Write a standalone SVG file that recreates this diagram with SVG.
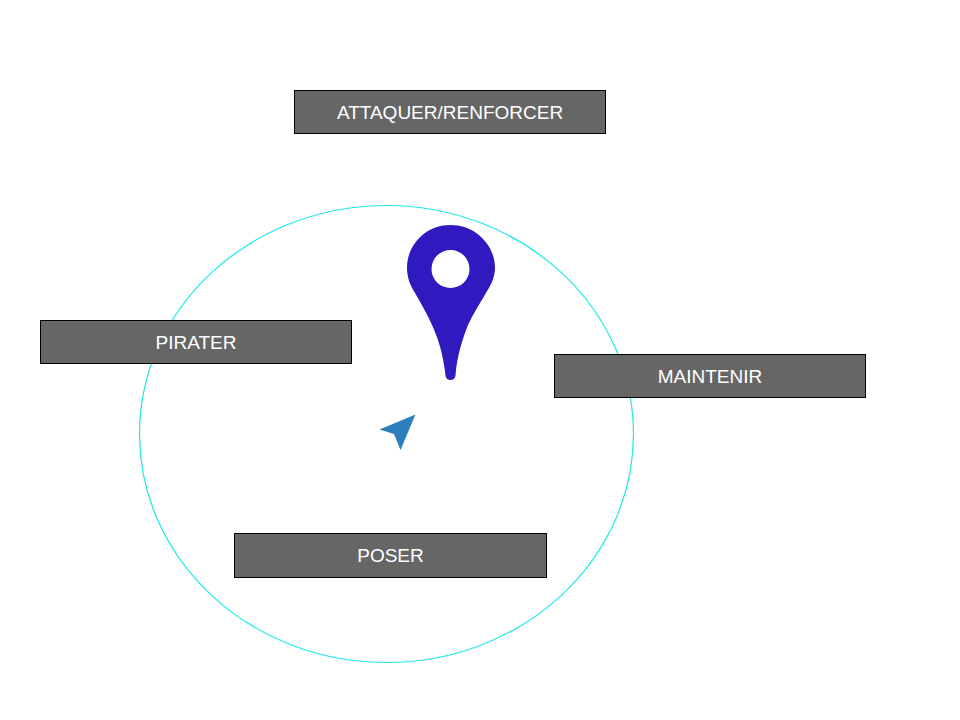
<svg xmlns="http://www.w3.org/2000/svg" width="960" height="720" viewBox="0 0 960 720">
<style>
.box{fill:#666666;stroke:#000000;stroke-width:1}
.lbl{font-family:"Liberation Sans",Arial,sans-serif;font-size:19px;fill:#ffffff;text-anchor:middle}
</style>
<rect width="960" height="720" fill="#ffffff"/>
<ellipse id="circle" cx="386.500" cy="434" rx="247" ry="228.500" fill="none" stroke="#1fe9e9" stroke-width="1.200"/>
<g id="attaquer"><rect class="box" x="294.500" y="90.500" width="311" height="43"/><text class="lbl" x="450" y="118.500">ATTAQUER/RENFORCER</text></g>
<g id="pirater"><rect class="box" x="40.500" y="320.500" width="311" height="43"/><text class="lbl" x="196" y="348.500">PIRATER</text></g>
<g id="maintenir"><rect class="box" x="554.500" y="354.500" width="311" height="43"/><text class="lbl" x="710" y="382.500">MAINTENIR</text></g>
<g id="poser"><rect class="box" x="234.500" y="533.500" width="312" height="44"/><text class="lbl" x="390.500" y="561.500">POSER</text></g>
<g id="pin"><path fill="#2e1abf" fill-rule="evenodd" d="M450.500 225C426 225 407 244.500 407 268C407 277 410 285 415 293C421 303 427 314 432 325C437 336 443 352 445.500 375.500C446 381.500 455 381.500 455.500 375.500C457 355 463 338 468 325C473 314 480 303 486 293C491 285 495 277 495 268C495 244.500 475 225 450.500 225ZM450.500 250A19 19 0 1 1 450.490 288A19 19 0 1 1 450.500 250Z"/></g>
<g id="arrow"><path fill="#2b7fba" d="M415.500 414.500L379.500 429.500L394 434L400.500 450Z"/></g>
</svg>
